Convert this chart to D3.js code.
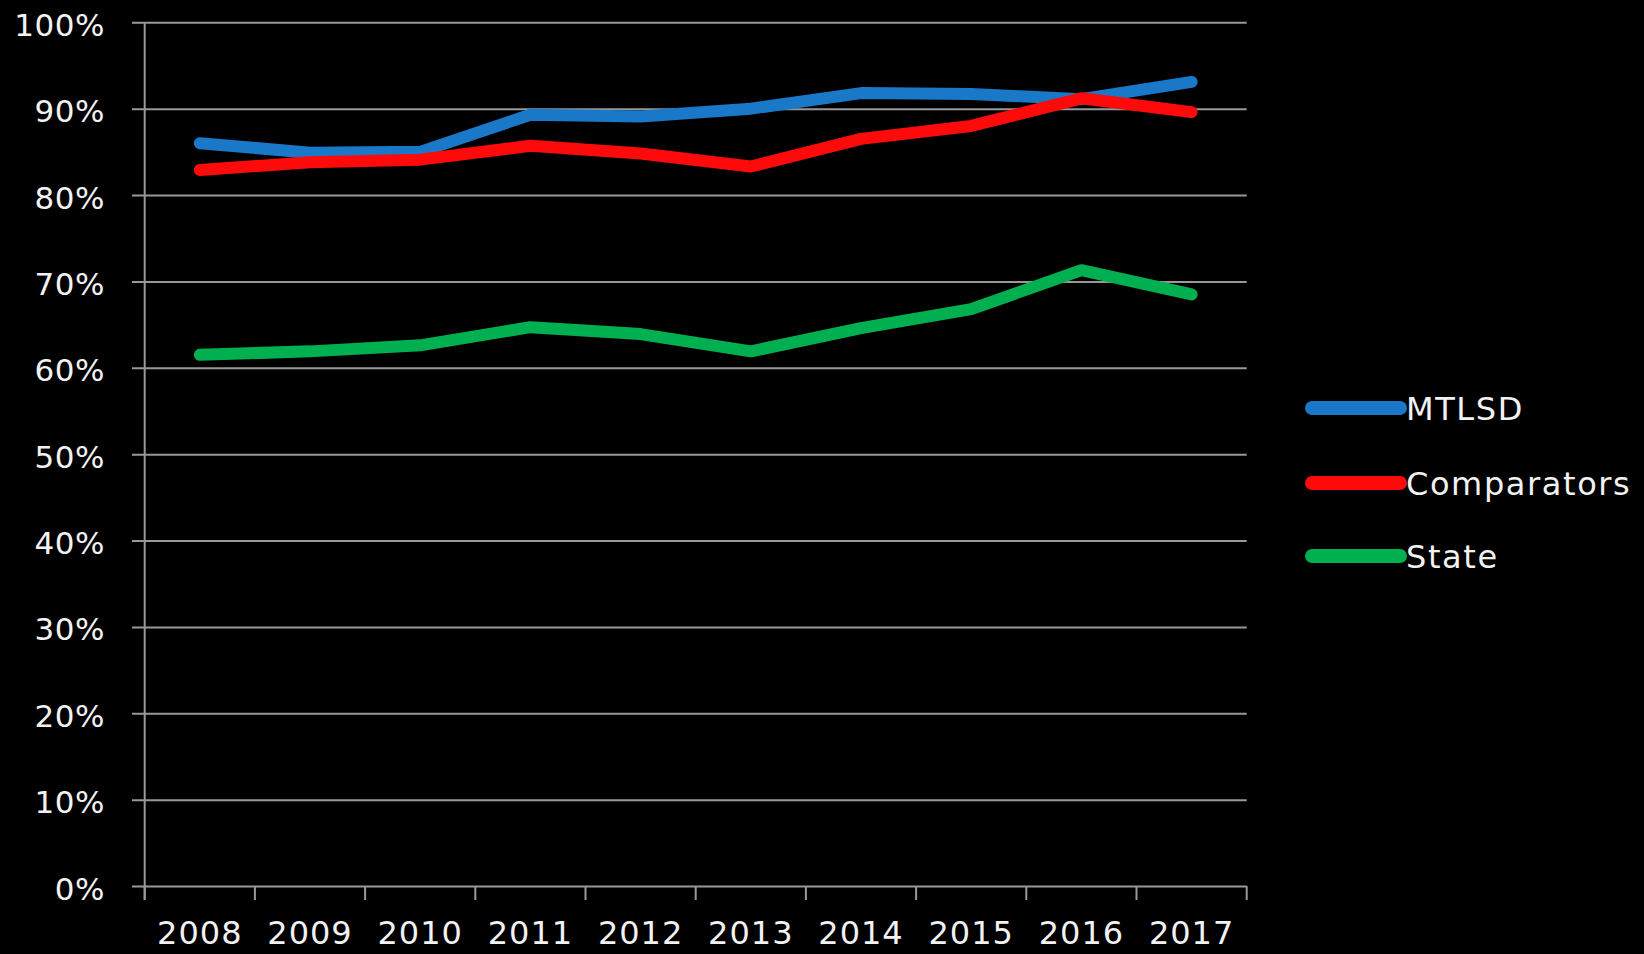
<!DOCTYPE html>
<html>
<head>
<meta charset="utf-8">
<script src="https://cdn.jsdelivr.net/npm/d3@7"></script>
<style>
  html, body { margin: 0; padding: 0; background: #000; }
  svg { display: block; }
  text { font-family: "DejaVu Sans", Verdana, sans-serif; fill: #f2f2f2; }
</style>
</head>
<body>
<svg id="chart" width="1644" height="954"></svg>
<script>
const years = ["2008","2009","2010","2011","2012","2013","2014","2015","2016","2017"];
const mtlsd = [86.0, 84.9, 85.0, 89.3, 89.1, 90.0, 91.8, 91.7, 91.1, 93.1];
const comparators = [82.9, 83.8, 84.1, 85.7, 84.8, 83.3, 86.5, 88.0, 91.2, 89.6];
const state = [61.5, 61.9, 62.6, 64.7, 63.9, 61.9, 64.6, 66.8, 71.3, 68.5];
const yTicks = [0, 10, 20, 30, 40, 50, 60, 70, 80, 90, 100];
const seriesNames = ["MTLSD", "Comparators", "State"];
const seriesColors = ["#1a78c8", "#ff0a0a", "#00b050"];
const seriesValues = [mtlsd, comparators, state];

(function () {
const svg = d3.select("#chart");
const pLeft = 144.7, pRight = 1246.7, pTop = 22.3, pBottom = 886;
const grid = "#999999";

const x = d3.scaleBand().domain(years).range([pLeft, pRight]).padding(0);
const y = d3.scaleLinear().domain([0, 100]).range([pBottom, pTop]);

// gridlines + y labels
const gy = svg.append("g").attr("transform", `translate(132,0)`)
  .call(d3.axisLeft(y).tickValues(yTicks).tickFormat(d => d + "%")
    .tickSize(-(pRight - 132)).tickPadding(27));
gy.select(".domain").remove();
gy.selectAll(".tick line").attr("stroke", grid).attr("stroke-width", 2);
gy.selectAll(".tick text").attr("font-size", 31).attr("dy", "0.42em").attr("fill", "#f2f2f2")
  .attr("font-family", "DejaVu Sans").attr("letter-spacing", 0.5);

// y axis line
svg.append("line").attr("x1", pLeft).attr("x2", pLeft).attr("y1", pTop).attr("y2", pBottom + 14)
  .attr("stroke", grid).attr("stroke-width", 2);

// x ticks at band boundaries
const bounds = years.map(d => x(d)).concat([x(years[years.length - 1]) + x.bandwidth()]);
svg.append("g").selectAll("line").data(bounds).join("line")
  .attr("x1", d => d).attr("x2", d => d).attr("y1", pBottom).attr("y2", pBottom + 14)
  .attr("stroke", grid).attr("stroke-width", 2);

// x labels
const gx = svg.append("g").attr("transform", `translate(0,${pBottom})`)
  .call(d3.axisBottom(x).tickSize(0).tickPadding(35));
gx.select(".domain").remove();
gx.selectAll(".tick text").attr("font-size", 32).attr("fill", "#f2f2f2")
  .attr("font-family", "DejaVu Sans").attr("letter-spacing", 1);

// lines
const line = d3.line().x((d, i) => x(years[i]) + x.bandwidth() / 2).y(d => y(d));
seriesValues.forEach((vals, k) => {
  svg.append("path").datum(vals).attr("d", line)
    .attr("fill", "none").attr("stroke", seriesColors[k]).attr("stroke-width", 12)
    .attr("stroke-linecap", "round").attr("stroke-linejoin", "round");
});

// legend
const legY = [408, 483, 556];
const lg = svg.append("g");
seriesNames.forEach((n, k) => {
  lg.append("line").attr("x1", 1312).attr("x2", 1400).attr("y1", legY[k]).attr("y2", legY[k])
    .attr("stroke", seriesColors[k]).attr("stroke-width", 14).attr("stroke-linecap", "round");
  lg.append("text").attr("x", 1406).attr("y", legY[k]).attr("dy", "0.36em")
    .attr("font-size", 32).attr("letter-spacing", 1.6).text(n);
});
})();
</script>
</body>
</html>
